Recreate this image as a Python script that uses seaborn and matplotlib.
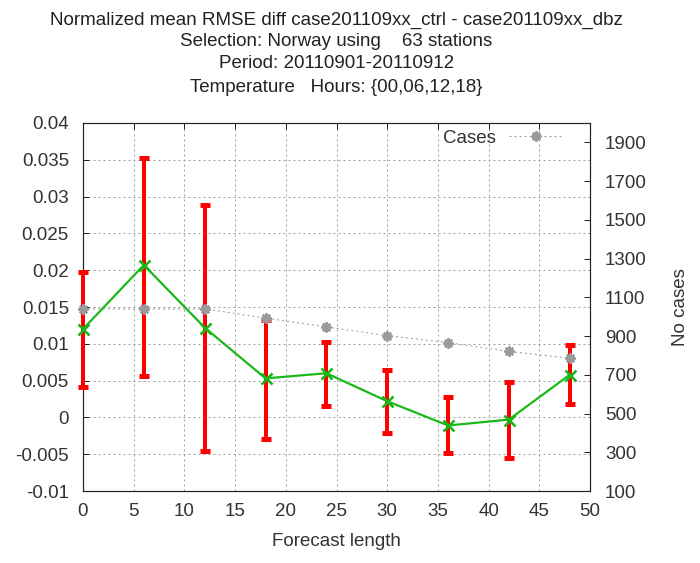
import matplotlib
matplotlib.use("Agg")
import matplotlib.pyplot as plt
import seaborn as sns
import pandas as pd
from matplotlib.lines import Line2D

# ---- data ----
hours = [0, 6, 12, 18, 24, 30, 36, 42, 48]
mean_diff = [0.0120, 0.0207, 0.0122, 0.0053, 0.0060, 0.0022, -0.0011, -0.0003, 0.0058]
upper = [0.0198, 0.0353, 0.0289, 0.0133, 0.0102, 0.0065, 0.0028, 0.0048, 0.0099]
lower = [0.0041, 0.0056, -0.0046, -0.0029, 0.0016, -0.0021, -0.0049, -0.0055, 0.0018]
cases = [1040, 1040, 1040, 993, 947, 902, 866, 821, 785]

title_lines = [
    "Normalized mean RMSE diff case201109xx_ctrl - case201109xx_dbz",
    "Selection: Norway using    63 stations",
    "Period: 20110901-20110912",
    "Temperature   Hours: {00,06,12,18}",
]
x_ticks = [0, 5, 10, 15, 20, 25, 30, 35, 40, 45, 50]
y_ticks = [-0.01, -0.005, 0, 0.005, 0.01, 0.015, 0.02, 0.025, 0.03, 0.035, 0.04]
y2_ticks = [100, 300, 500, 700, 900, 1100, 1300, 1500, 1700, 1900]

df = pd.DataFrame({"hour": hours, "mean": mean_diff, "upper": upper,
                   "lower": lower, "cases": cases})

sns.set_theme(style="white")
plt.rcParams["font.family"] = ["Liberation Sans", "DejaVu Sans"]
FS = 13.5
plt.rcParams["font.size"] = FS

PX = 72 / 100.0  # points per pixel at dpi 100
W, H = 700, 563
fig = plt.figure(figsize=(W / 100, H / 100), dpi=100)
fig.patch.set_facecolor("white")
L, R, T, B = 83, 590, 123, 491
ax = fig.add_axes([L / W, 1 - B / H, (R - L) / W, (B - T) / H])
ax.set_facecolor("white")

text_col = "#333333"
grid_col = "#a0a0a0"
gray = "#9a9a9a"
green = "#18b818"

# grid
ax.set_xlim(0, 50)
ax.set_ylim(-0.01, 0.04)
ax.set_xticks(x_ticks)
ax.set_yticks(y_ticks)
ax.set_xticklabels([str(v) for v in x_ticks])
ax.set_yticklabels(["%g" % v for v in y_ticks])
ax.grid(True, color=grid_col, linewidth=1 * PX, linestyle=(0, (2, 3)))
ax.set_axisbelow(True)

# error bars
ax.errorbar(df["hour"], df["mean"],
            yerr=[df["mean"] - df["lower"], df["upper"] - df["mean"]],
            fmt="none", ecolor="#ff0000", elinewidth=4 * PX,
            capsize=5 * PX, capthick=5 * PX, clip_on=False, zorder=3)

# mean line
sns.lineplot(data=df, x="hour", y="mean", ax=ax, color=green,
             linewidth=2.2 * PX, marker="x", markersize=11 * PX,
             markeredgewidth=2.6 * PX, markeredgecolor=green,
             clip_on=False, zorder=4, legend=False)

ax.set_xlabel("Forecast length", fontsize=FS, color=text_col, labelpad=9)
ax.set_ylabel("")

for s in ax.spines.values():
    s.set_color("#222222")
    s.set_linewidth(1.2 * PX)

ax.tick_params(axis="both", direction="in", length=6 * PX, width=1 * PX,
               colors="#222222", labelcolor=text_col, labelsize=FS)
ax.tick_params(axis="x", top=True, pad=12 * PX)
ax.tick_params(axis="y", left=True, right=False, pad=14 * PX)

# secondary axis
ax2 = ax.twinx()
ax2.set_ylim(100, 2000)
ax2.set_yticks(y2_ticks)
ax2.set_yticklabels([str(v) for v in y2_ticks])
sns.lineplot(data=df, x="hour", y="cases", ax=ax2, color=gray,
             linewidth=1 * PX, linestyle=(0, (2, 3)), marker=(8, 2, 0),
             markersize=10 * PX, markeredgewidth=2.4 * PX,
             markeredgecolor=gray, clip_on=False, zorder=5, legend=False)
ax2.set_ylabel("No cases", fontsize=FS, color=text_col, labelpad=18)
ax2.tick_params(axis="y", direction="in", length=6 * PX, width=1 * PX,
                colors="#222222", labelcolor=text_col, labelsize=FS,
                right=True, pad=15 * PX)
for s in ax2.spines.values():
    s.set_visible(False)
ax2.grid(False)
ax.patch.set_visible(False)
ax2.set_zorder(ax.get_zorder() + 1)
ax2.patch.set_visible(False)

handle = Line2D([], [], color=gray, linewidth=1 * PX,
                linestyle=(0, (2, 3)), marker=(8, 2, 0), markersize=10 * PX,
                markeredgewidth=2.4 * PX, markeredgecolor=gray)
leg = ax2.legend([handle], ["Cases"], loc="center right",
                 bbox_to_anchor=(563 / W, 1 - 138 / H),
                 bbox_transform=fig.transFigure, frameon=False,
                 markerfirst=False, handlelength=2.9, handletextpad=0.7,
                 borderpad=0, borderaxespad=0, fontsize=FS)
for t in leg.get_texts():
    t.set_color(text_col)

# title
ys = [20, 42, 64, 87]
for line, yy in zip(title_lines, ys):
    fig.text((L + R) / 2 / W, 1 - yy / H, line, ha="center", va="center",
             fontsize=FS, color="#222222")

fig.savefig("out.png", dpi=100, facecolor="white")
